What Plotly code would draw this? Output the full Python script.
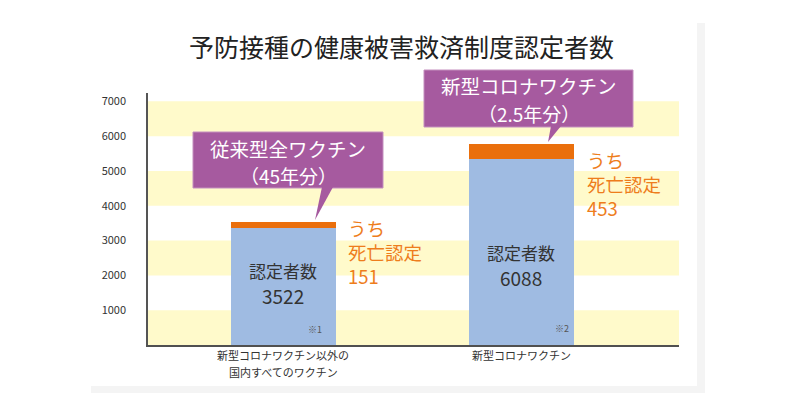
import plotly.graph_objects as go

# ---------------- data ----------------
title_text = "予防接種の健康被害救済制度認定者数"
categories = [["新型コロナワクチン以外の", "国内すべてのワクチン"], ["新型コロナワクチン"]]
cat_pos = [0, 1]
certified_label = ["3522", "6088"]
death_label = ["151", "453"]
# bar segments as drawn in the picture
other_part = [3371, 5340]
death_part = [151, 430]
callout_line1 = ["従来型全ワクチン", "新型コロナワクチン"]
callout_line2 = ["（45年分）", "（2.5年分）"]
notes = ["※1", "※2"]
y_ticks = [1000, 2000, 3000, 4000, 5000, 6000, 7000]
band_starts = [0, 2000, 4000, 6000]
band_size = 1000

# ---------------- layout helpers ----------------
W, H = 800, 419
PL, PR, PT, PB = 148, 679, 93, 345
FONT = "Noto Sans CJK JP, Noto Sans, sans-serif"
BLUE = "#9fbbe2"
ORANGE = "#ea6f0c"
PURPLE = "#a65a9f"
YELLOW = "#fffacb"
TXT_ORANGE = "#ee7d1c"


def px(x, y):
    return (x - PL) / (PR - PL), (PB - y) / (PB - PT)


fig = go.Figure()
fig.add_trace(go.Bar(x=cat_pos, y=other_part, width=0.441, marker=dict(color=BLUE, line=dict(width=0)),
                     hoverinfo="skip", showlegend=False))
fig.add_trace(go.Bar(x=cat_pos, y=death_part, width=0.441, marker=dict(color=ORANGE, line=dict(width=0)),
                     hoverinfo="skip", showlegend=False))

shapes = []
# card shadow and card
sx0, sy0 = px(91, 23)
sx1, sy1 = px(705, 393)
shapes.append(dict(type="rect", xref="paper", yref="paper", x0=sx0, y0=sy0, x1=sx1, y1=sy1,
                   fillcolor="#f4f4f4", line=dict(width=0), layer="below"))
cx0, cy0 = px(90, 22)
cx1, cy1 = px(697, 386)
shapes.append(dict(type="rect", xref="paper", yref="paper", x0=cx0, y0=cy0, x1=cx1, y1=cy1,
                   fillcolor="white", line=dict(width=0), layer="below"))
# yellow bands
for b in band_starts:
    shapes.append(dict(type="rect", xref="paper", yref="y", x0=0, x1=1, y0=b, y1=b + band_size,
                       fillcolor=YELLOW, line=dict(width=0), layer="below"))

# callout boxes with pointers (pixel geometry)
boxes = [((193, 132, 383, 188), [(322, 187), (333, 187), (315, 220)]),
         ((424, 70, 633, 127), [(551, 126), (561, 126), (548, 142)])]
for (bx0, by0, bx1, by1), tri in boxes:
    x0, y0 = px(bx0, by1)
    x1, y1 = px(bx1, by0)
    shapes.append(dict(type="rect", xref="paper", yref="paper", x0=x0, y0=y0, x1=x1, y1=y1,
                       fillcolor=PURPLE, line=dict(color="#c48fbe", width=1), layer="above"))
    pts = [px(*p) for p in tri]
    path = "M {} {} L {} {} L {} {} Z".format(pts[0][0], pts[0][1], pts[1][0], pts[1][1], pts[2][0], pts[2][1])
    shapes.append(dict(type="path", xref="paper", yref="paper", path=path,
                       fillcolor=PURPLE, line=dict(width=0), layer="above"))

annotations = []


def add_text(text, x, y, size, color, xanchor="center", align="center"):
    ax, ay = px(x, y)
    annotations.append(dict(text=text, x=ax, y=ay, xref="paper", yref="paper", showarrow=False,
                            xanchor=xanchor, yanchor="middle", align=align,
                            font=dict(family=FONT, size=size, color=color)))


# title
add_text(title_text, 401, 46, 25, "#222222")

# callout texts
callout_pos = [(288, 148, 175), (529, 85.5, 113)]
for i, (cx, y1, y2) in enumerate(callout_pos):
    add_text(callout_line1[i], cx, y1, 19.5, "white")
    add_text(callout_line2[i], cx, y2, 19, "white")

# in-bar texts
inbar_pos = [(283, 270, 295), (521, 252, 277)]
for i, (cx, y1, y2) in enumerate(inbar_pos):
    add_text("認定者数", cx, y1, 17, "#333333")
    add_text(certified_label[i], cx, y2, 19, "#333333")

# notes
note_pos = [(315, 329), (562, 328)]
for i, (nx, ny) in enumerate(note_pos):
    add_text(notes[i], nx, ny, 9, "#555555")

# orange death texts (three lines each)
death_pos = [(346, 252), (585, 184)]
for i, (dx, dy) in enumerate(death_pos):
    add_text("うち<br>死亡認定<br>" + death_label[i], dx, dy, 18.5, TXT_ORANGE, "left", "left")

# category labels under the x axis (one annotation per line, placed at the category position)
for pos, lines in zip(cat_pos, categories):
    for j, line in enumerate(lines):
        annotations.append(dict(text=line, x=pos, xref="x", y=px(0, 355 + 17 * j)[1], yref="paper",
                                showarrow=False, xanchor="center", yanchor="middle",
                                font=dict(family=FONT, size=11, color="#333333")))

fig.update_layout(
    width=W, height=H, autosize=False,
    margin=dict(l=PL, r=W - PR, t=PT, b=H - PB, pad=0),
    paper_bgcolor="white", plot_bgcolor="white",
    barmode="stack", bargap=0,
    shapes=shapes, annotations=annotations,
    font=dict(family=FONT, color="#333333"),
    showlegend=False,
)
fig.update_xaxes(range=[-0.568, 1.661], tickvals=cat_pos, showticklabels=False,
                 showline=True, linecolor="#505050", linewidth=2, showgrid=False, zeroline=False,
                 ticks="", fixedrange=True)
fig.update_yaxes(range=[0, 7240], tickvals=y_ticks, ticktext=[str(v) for v in y_ticks],
                 showline=True, linecolor="#555555", linewidth=1.5, showgrid=False, zeroline=False,
                 ticks="", tickfont=dict(family=FONT, size=11, color="#333333"), ticklabelstandoff=18,
                 fixedrange=True)

fig.write_html("out.html", config={"displayModeBar": False},
               post_script="document.body.style.margin='0';document.body.style.overflow='hidden';")
